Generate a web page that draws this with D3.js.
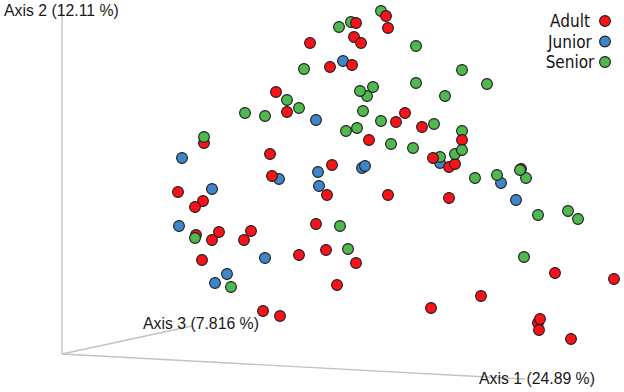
<!DOCTYPE html>
<html>
<head>
<meta charset="utf-8">
<script src="https://cdn.jsdelivr.net/npm/d3@7"></script>
<style>
  html, body { margin: 0; padding: 0; background: #fff; }
  svg { display: block; }
</style>
</head>
<body>
<div id="chart"></div>
<script>
// projected ordination coordinates: [axis 1 side, axis 2 up, draw depth]
const adult = [[248,311],[214,262],[225,242],[142,211],[208,200],[210,178],[116,162],[141,153],[133,147],
  [324,338],[294,331],[326,326],[292,317],[299,311],[290,289],[268,287],[343,241],[334,232],[360,227],
  [307,214],[400,214],[371,196],[393,190,-1],[387,187,-2],[459,185],[270,189],[265,159],[326,159],[387,156],
  [134,119],[157,122],[150,114],[189,123],[182,114],[140,94],[237,99],[254,130],[201,43],[218,38],
  [264,104],[294,91],[275,69],[369,46],[419,58],[493,81],[552,75],[478,35],[476,31,-1],[477,24],[509,15]];
const junior = [[281,293,-1],[254,234],[378,191,-3],[300,186],[303,188],[256,182],[257,168],[439,171,-1],
  [454,154],[120,196],[217,175,-1],[150,165],[117,128],[203,96],[165,80],[153,71]];
const senior = [[319,343,-1],[289,332,-1],[277,327],[354,308],[400,284],[354,271],[425,270],[311,267],
  [305,258,-1],[298,263],[383,258],[301,243],[319,233],[372,230],[295,226],[284,223],[400,223,-1],[329,210],
  [351,206],[400,204,1],[393,200],[378,197,-1],[413,176],[435,179],[464,176],[458,184,1],[242,285],
  [225,254],[237,246],[183,241],[203,238],[142,217,1],[133,116,1],[169,67],[278,128],[286,105],
  [476,139],[506,143],[516,135],[462,97]];

const groups = ['Adult', 'Junior', 'Senior'];
const groupColors = ['#fb1219', '#3f86c8', '#4fb84e'];

// axis end points in the same projected units
const axisLines = [
  { name: 'Axis 1 (24.89 %)', end: [463, -25], lx: 479, ly: 384 },
  { name: 'Axis 2 (12.11 %)', end: [0, 350], lx: 4, ly: 16 },
  { name: 'Axis 3 (7.816 %)', end: [130, 28], lx: 143, ly: 329 }
];

const width = 624, height = 392;

const x = d3.scaleLinear().domain([0, 562]).range([62, 624]);
const y = d3.scaleLinear().domain([0, 354]).range([354, 0]);
const color = d3.scaleOrdinal().domain(groups).range(groupColors);
const legendY = d3.scalePoint().domain(groups).range([21, 62]);

const svg = d3.select('#chart').append('svg')
  .attr('width', width)
  .attr('height', height);

// axes
svg.selectAll('.axis-line')
  .data(axisLines)
  .enter()
  .append('line')
  .attr('class', 'axis-line')
  .attr('x1', x(0))
  .attr('y1', y(0))
  .attr('x2', d => x(d.end[0]))
  .attr('y2', d => y(d.end[1]))
  .attr('stroke', '#c2c2c2')
  .attr('stroke-width', 1.4);

// points, back to front
const points = [];
[adult, junior, senior].forEach((values, i) => {
  values.forEach(v => points.push({ group: groups[i], u: v[0], v: v[1], depth: v[2] || 0 }));
});
points.sort((a, b) => d3.ascending(a.depth, b.depth));

svg.selectAll('.point')
  .data(points)
  .enter()
  .append('circle')
  .attr('class', 'point')
  .attr('cx', d => x(d.u))
  .attr('cy', d => y(d.v))
  .attr('r', 5.4)
  .attr('fill', d => color(d.group))
  .attr('stroke', '#1c1c1c')
  .attr('stroke-width', 1.1);

// axis labels go over the points
svg.selectAll('.axis-label')
  .data(axisLines)
  .enter()
  .append('text')
  .attr('class', 'axis-label')
  .attr('x', d => d.lx)
  .attr('y', d => d.ly)
  .attr('font-family', '"Liberation Sans", Arial, sans-serif')
  .attr('font-size', 15.8)
  .attr('fill', '#1a1a1a')
  .text(d => d.name);

// legend
const legend = svg.selectAll('.legend')
  .data(groups)
  .enter()
  .append('g')
  .attr('class', 'legend');

legend.append('circle')
  .attr('cx', 605)
  .attr('cy', d => legendY(d))
  .attr('r', 5.4)
  .attr('fill', d => color(d))
  .attr('stroke', '#1c1c1c')
  .attr('stroke-width', 1.1);

legend.append('text')
  .attr('x', 570)
  .attr('y', d => legendY(d) + 6)
  .attr('text-anchor', 'middle')
  .attr('font-family', '"DejaVu Sans Condensed", "DejaVu Sans", sans-serif')
  .attr('font-size', 17)
  .attr('fill', '#111')
  .text(d => d);
</script>
</body>
</html>
